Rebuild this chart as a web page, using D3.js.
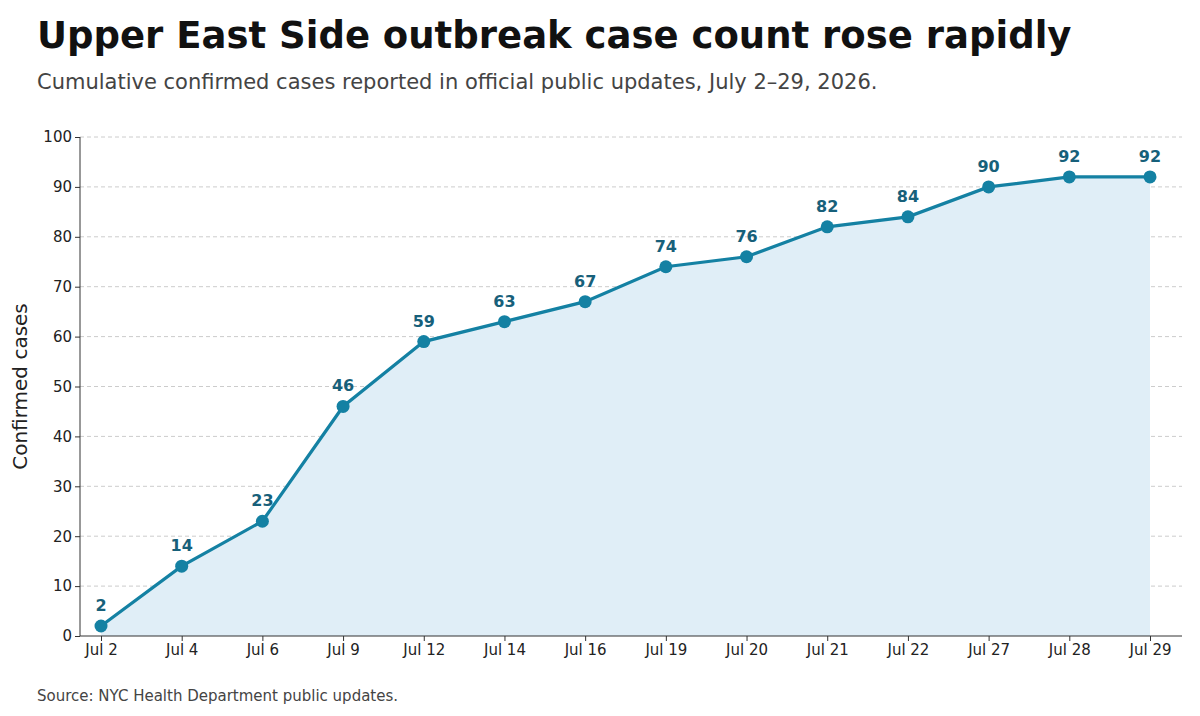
<!DOCTYPE html>
<html><head><meta charset="utf-8">
<script src="https://cdn.jsdelivr.net/npm/d3@7"></script>
<style>body{margin:0;background:#fff;font-family:"DejaVu Sans",sans-serif}</style>
</head><body><svg id="c" width="1200" height="716"></svg>
<script>
const categories=["Jul 2","Jul 4","Jul 6","Jul 9","Jul 12","Jul 14","Jul 16","Jul 19","Jul 20","Jul 21","Jul 22","Jul 27","Jul 28","Jul 29"];
const cases=[2,14,23,46,59,63,67,74,76,82,84,90,92,92];
const yTicks=[0,10,20,30,40,50,60,70,80,90,100];
const svg=d3.select("#c");
const L=80,R=1182,T=137,B=636;
const x=d3.scalePoint().domain(categories).range([101,1150]).padding(0);
const y=d3.scaleLinear().domain([0,100]).range([B,T]);
svg.append("text").attr("x",37).attr("y",48).attr("font-size",37).attr("font-weight","bold").attr("fill","#111").text("Upper East Side outbreak case count rose rapidly");
svg.append("text").attr("x",37).attr("y",89).attr("font-size",21).attr("fill","#444").text("Cumulative confirmed cases reported in official public updates, July 2–29, 2026.");
svg.append("g").selectAll("line").data(yTicks.slice(1)).join("line").attr("x1",L).attr("x2",R).attr("y1",d=>y(d)).attr("y2",d=>y(d)).attr("stroke","#ccc").attr("stroke-dasharray","4,3");
svg.append("path").datum(cases).attr("fill","#e0eef7").attr("d",d3.area().x((d,i)=>x(categories[i])).y0(B).y1(d=>y(d)));
svg.append("path").datum(cases).attr("fill","none").attr("stroke","#1481a3").attr("stroke-width",3.2).attr("d",d3.line().x((d,i)=>x(categories[i])).y(d=>y(d)));
svg.append("g").selectAll("circle").data(cases).join("circle").attr("cx",(d,i)=>x(categories[i])).attr("cy",d=>y(d)).attr("r",6.5).attr("fill","#1481a3");
svg.append("g").selectAll("text").data(cases).join("text").attr("x",(d,i)=>x(categories[i])).attr("y",d=>y(d)-15).attr("text-anchor","middle").attr("font-size",16).attr("font-weight","bold").attr("fill","#17607a").text(d=>d);
const ya=svg.append("g").attr("transform",`translate(${L},0)`).call(d3.axisLeft(y).tickValues(yTicks).tickSize(5));
const xa=svg.append("g").attr("transform",`translate(0,${B})`).call(d3.axisBottom(x).tickSize(5));
[ya,xa].forEach(a=>{a.selectAll("text").attr("font-size",15).attr("fill","#222").attr("font-family","DejaVu Sans");a.selectAll("line,path").attr("stroke","#333");});
xa.select(".domain").attr("d",`M${L},0H${R}`);
ya.select(".domain").attr("d",`M0,${B}V${T}`);
svg.append("text").attr("transform",`translate(27,${(T+B)/2}) rotate(-90)`).attr("text-anchor","middle").attr("font-size",20).attr("fill","#222").text("Confirmed cases");
svg.append("text").attr("x",37).attr("y",701).attr("font-size",15).attr("fill","#444").text("Source: NYC Health Department public updates.");
</script></body></html>
